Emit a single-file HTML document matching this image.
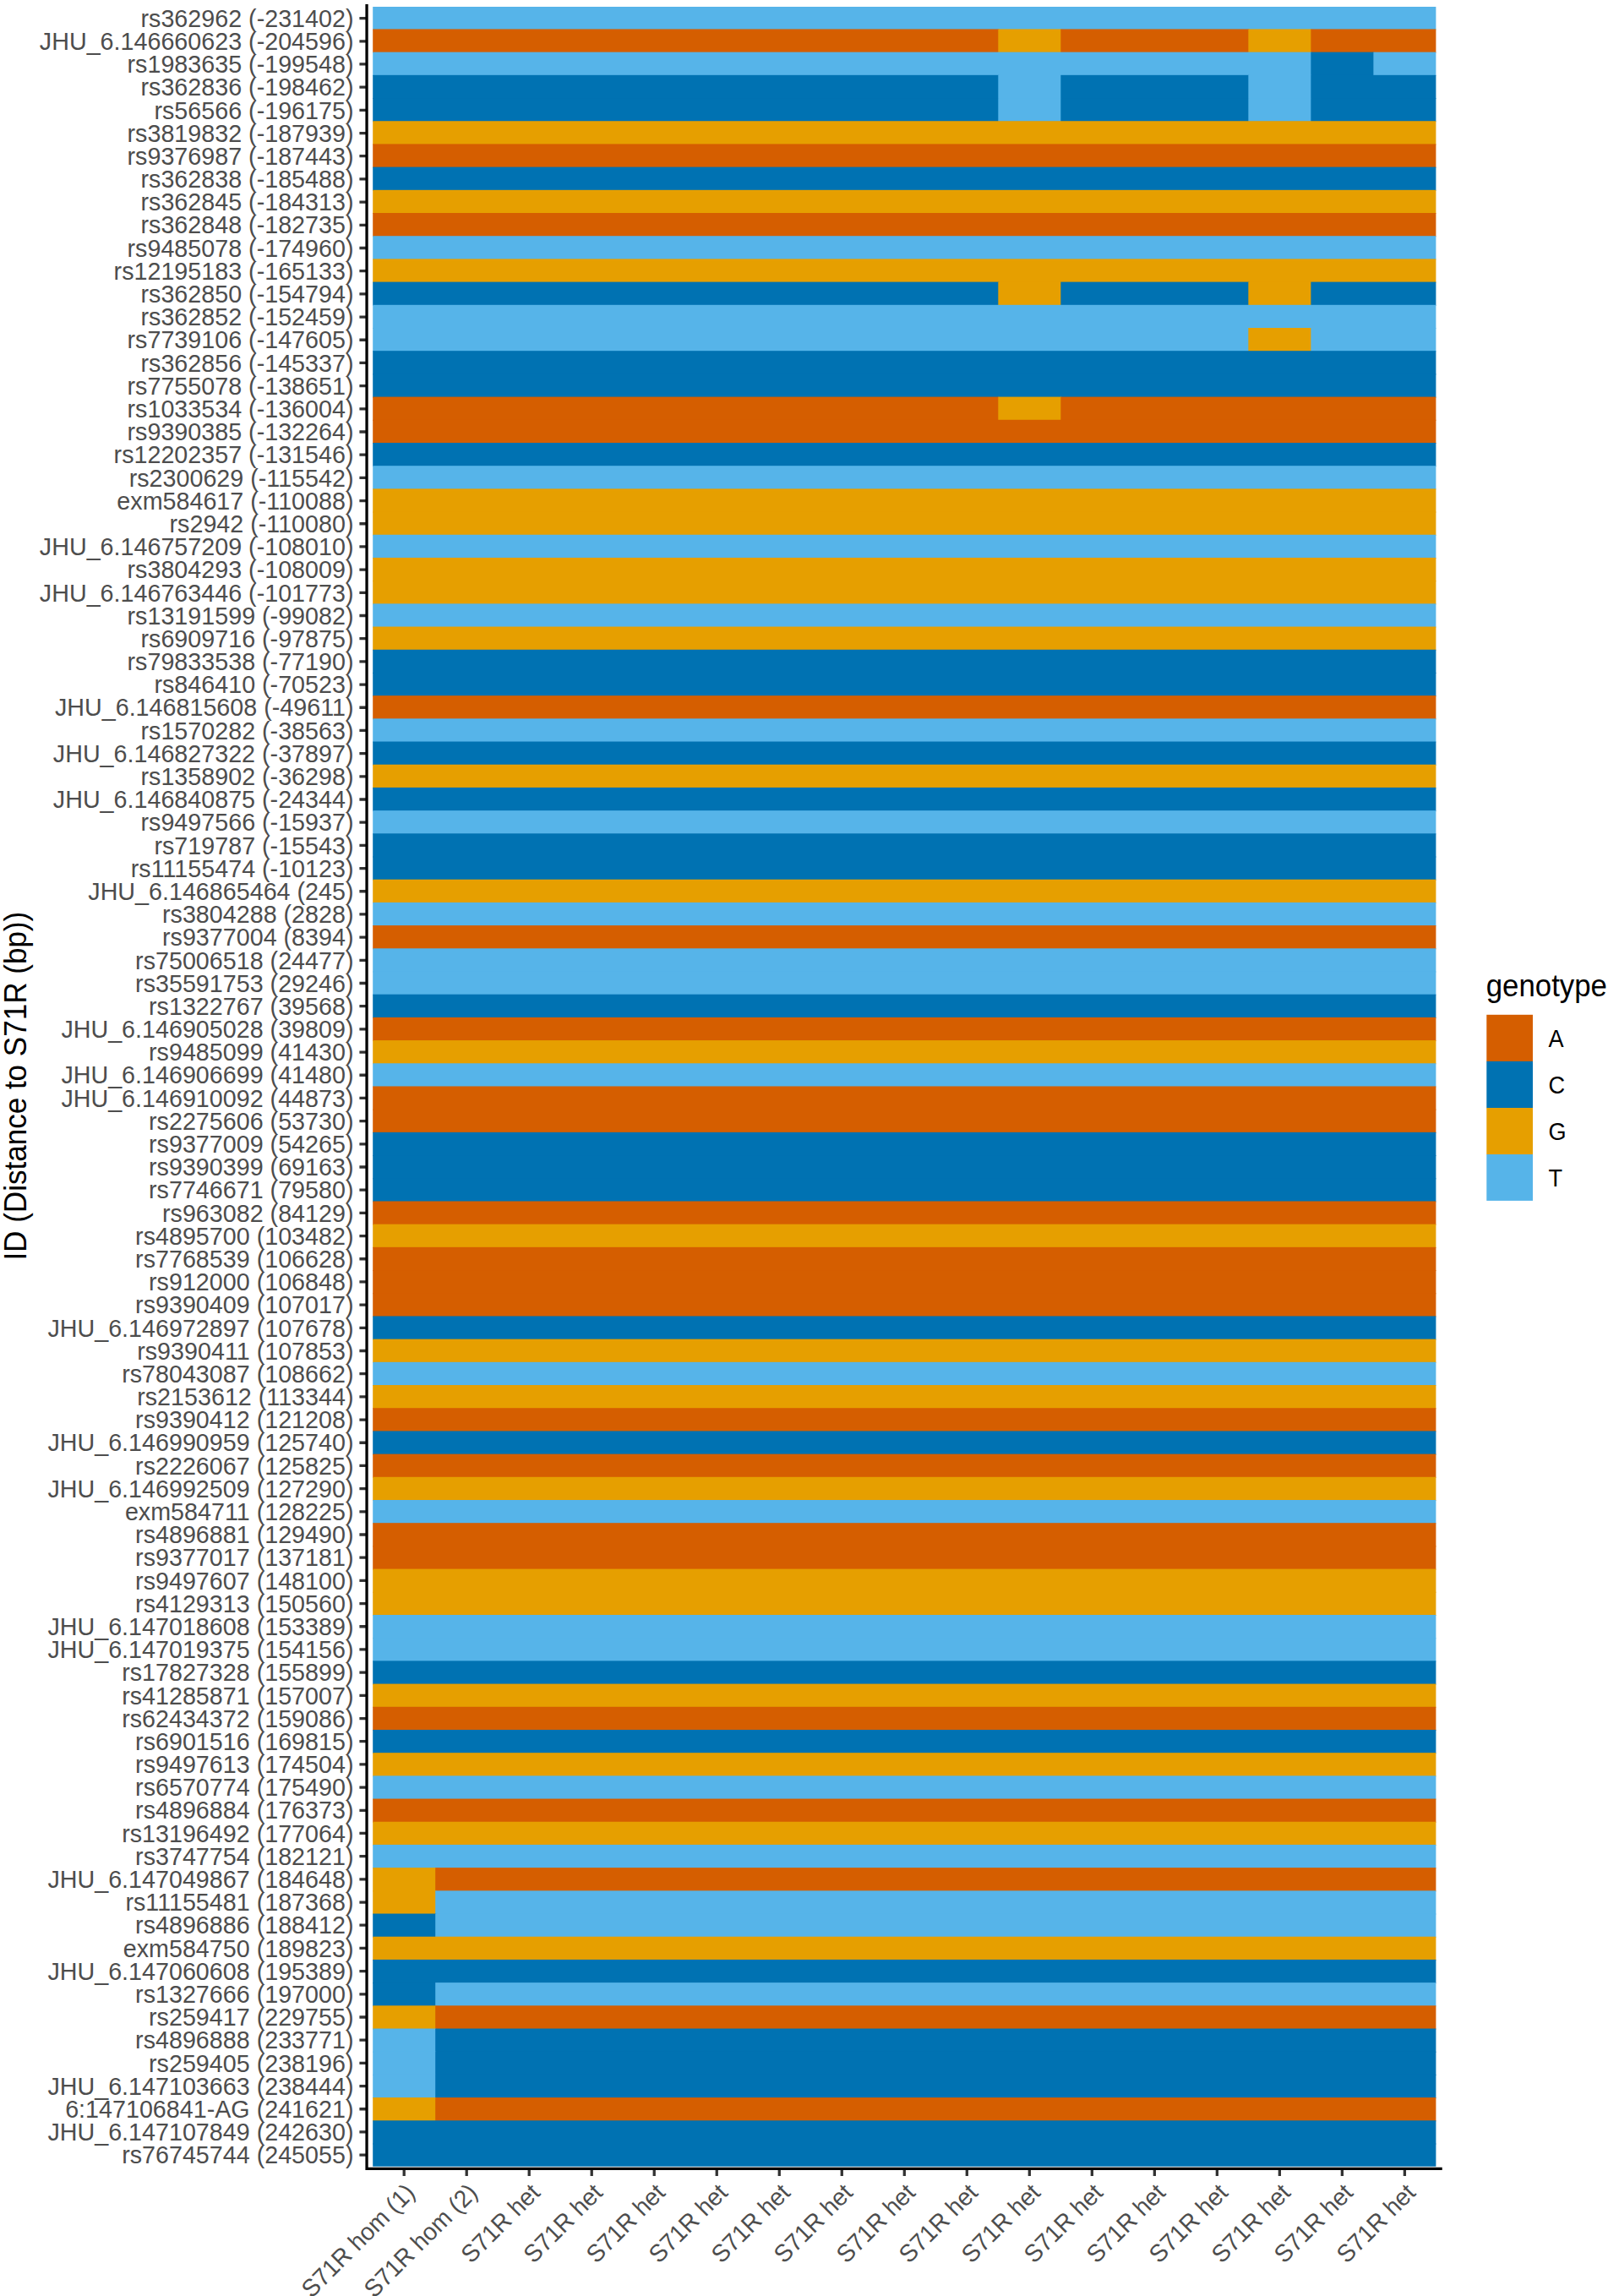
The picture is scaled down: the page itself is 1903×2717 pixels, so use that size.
<!DOCTYPE html>
<html lang="en"><head><meta charset="utf-8"><title>Genotype heatmap</title>
<style>html,body{margin:0;padding:0;background:#fff}svg{display:block}text{font-family:"Liberation Sans",sans-serif}.yl{font-size:29.2px;fill:#4D4D4D;text-anchor:end}.xl{font-size:29.0px;fill:#4D4D4D;text-anchor:end}.lg{font-size:29.2px;fill:#000}.tt{font-size:36.4px;fill:#000}</style></head><body>
<svg width="1903" height="2717" viewBox="0 0 1903 2717">
<rect width="1903" height="2717" fill="#fff"/>
<clipPath id="pc"><rect x="441.2" y="8" width="1258.2" height="2555.7"/></clipPath><g clip-path="url(#pc)">
<rect x="440.2" y="7.25" width="1260.2" height="28.2" fill="#56B4E9"/>
<rect x="440.2" y="34.45" width="742.12" height="28.2" fill="#D55E00"/>
<rect x="1181.32" y="34.45" width="75.01" height="28.2" fill="#E69F00"/>
<rect x="1255.33" y="34.45" width="223.04" height="28.2" fill="#D55E00"/>
<rect x="1477.36" y="34.45" width="75.01" height="28.2" fill="#E69F00"/>
<rect x="1551.38" y="34.45" width="149.02" height="28.2" fill="#D55E00"/>
<rect x="440.2" y="61.64" width="1112.18" height="28.2" fill="#56B4E9"/>
<rect x="1551.38" y="61.64" width="75.01" height="28.2" fill="#0072B2"/>
<rect x="1625.39" y="61.64" width="75.01" height="28.2" fill="#56B4E9"/>
<rect x="440.2" y="88.84" width="742.12" height="28.2" fill="#0072B2"/>
<rect x="1181.32" y="88.84" width="75.01" height="28.2" fill="#56B4E9"/>
<rect x="1255.33" y="88.84" width="223.04" height="28.2" fill="#0072B2"/>
<rect x="1477.36" y="88.84" width="75.01" height="28.2" fill="#56B4E9"/>
<rect x="1551.38" y="88.84" width="149.02" height="28.2" fill="#0072B2"/>
<rect x="440.2" y="116.04" width="742.12" height="28.2" fill="#0072B2"/>
<rect x="1181.32" y="116.04" width="75.01" height="28.2" fill="#56B4E9"/>
<rect x="1255.33" y="116.04" width="223.04" height="28.2" fill="#0072B2"/>
<rect x="1477.36" y="116.04" width="75.01" height="28.2" fill="#56B4E9"/>
<rect x="1551.38" y="116.04" width="149.02" height="28.2" fill="#0072B2"/>
<rect x="440.2" y="143.23" width="1260.2" height="28.2" fill="#E69F00"/>
<rect x="440.2" y="170.43" width="1260.2" height="28.2" fill="#D55E00"/>
<rect x="440.2" y="197.62" width="1260.2" height="28.2" fill="#0072B2"/>
<rect x="440.2" y="224.82" width="1260.2" height="28.2" fill="#E69F00"/>
<rect x="440.2" y="252.02" width="1260.2" height="28.2" fill="#D55E00"/>
<rect x="440.2" y="279.21" width="1260.2" height="28.2" fill="#56B4E9"/>
<rect x="440.2" y="306.41" width="1260.2" height="28.2" fill="#E69F00"/>
<rect x="440.2" y="333.61" width="742.12" height="28.2" fill="#0072B2"/>
<rect x="1181.32" y="333.61" width="75.01" height="28.2" fill="#E69F00"/>
<rect x="1255.33" y="333.61" width="223.04" height="28.2" fill="#0072B2"/>
<rect x="1477.36" y="333.61" width="75.01" height="28.2" fill="#E69F00"/>
<rect x="1551.38" y="333.61" width="149.02" height="28.2" fill="#0072B2"/>
<rect x="440.2" y="360.8" width="1260.2" height="28.2" fill="#56B4E9"/>
<rect x="440.2" y="388" width="1038.16" height="28.2" fill="#56B4E9"/>
<rect x="1477.36" y="388" width="75.01" height="28.2" fill="#E69F00"/>
<rect x="1551.38" y="388" width="149.02" height="28.2" fill="#56B4E9"/>
<rect x="440.2" y="415.19" width="1260.2" height="28.2" fill="#0072B2"/>
<rect x="440.2" y="442.39" width="1260.2" height="28.2" fill="#0072B2"/>
<rect x="440.2" y="469.59" width="742.12" height="28.2" fill="#D55E00"/>
<rect x="1181.32" y="469.59" width="75.01" height="28.2" fill="#E69F00"/>
<rect x="1255.33" y="469.59" width="445.07" height="28.2" fill="#D55E00"/>
<rect x="440.2" y="496.78" width="1260.2" height="28.2" fill="#D55E00"/>
<rect x="440.2" y="523.98" width="1260.2" height="28.2" fill="#0072B2"/>
<rect x="440.2" y="551.18" width="1260.2" height="28.2" fill="#56B4E9"/>
<rect x="440.2" y="578.37" width="1260.2" height="28.2" fill="#E69F00"/>
<rect x="440.2" y="605.57" width="1260.2" height="28.2" fill="#E69F00"/>
<rect x="440.2" y="632.76" width="1260.2" height="28.2" fill="#56B4E9"/>
<rect x="440.2" y="659.96" width="1260.2" height="28.2" fill="#E69F00"/>
<rect x="440.2" y="687.16" width="1260.2" height="28.2" fill="#E69F00"/>
<rect x="440.2" y="714.35" width="1260.2" height="28.2" fill="#56B4E9"/>
<rect x="440.2" y="741.55" width="1260.2" height="28.2" fill="#E69F00"/>
<rect x="440.2" y="768.75" width="1260.2" height="28.2" fill="#0072B2"/>
<rect x="440.2" y="795.94" width="1260.2" height="28.2" fill="#0072B2"/>
<rect x="440.2" y="823.14" width="1260.2" height="28.2" fill="#D55E00"/>
<rect x="440.2" y="850.33" width="1260.2" height="28.2" fill="#56B4E9"/>
<rect x="440.2" y="877.53" width="1260.2" height="28.2" fill="#0072B2"/>
<rect x="440.2" y="904.73" width="1260.2" height="28.2" fill="#E69F00"/>
<rect x="440.2" y="931.92" width="1260.2" height="28.2" fill="#0072B2"/>
<rect x="440.2" y="959.12" width="1260.2" height="28.2" fill="#56B4E9"/>
<rect x="440.2" y="986.32" width="1260.2" height="28.2" fill="#0072B2"/>
<rect x="440.2" y="1013.51" width="1260.2" height="28.2" fill="#0072B2"/>
<rect x="440.2" y="1040.71" width="1260.2" height="28.2" fill="#E69F00"/>
<rect x="440.2" y="1067.9" width="1260.2" height="28.2" fill="#56B4E9"/>
<rect x="440.2" y="1095.1" width="1260.2" height="28.2" fill="#D55E00"/>
<rect x="440.2" y="1122.3" width="1260.2" height="28.2" fill="#56B4E9"/>
<rect x="440.2" y="1149.49" width="1260.2" height="28.2" fill="#56B4E9"/>
<rect x="440.2" y="1176.69" width="1260.2" height="28.2" fill="#0072B2"/>
<rect x="440.2" y="1203.89" width="1260.2" height="28.2" fill="#D55E00"/>
<rect x="440.2" y="1231.08" width="1260.2" height="28.2" fill="#E69F00"/>
<rect x="440.2" y="1258.28" width="1260.2" height="28.2" fill="#56B4E9"/>
<rect x="440.2" y="1285.47" width="1260.2" height="28.2" fill="#D55E00"/>
<rect x="440.2" y="1312.67" width="1260.2" height="28.2" fill="#D55E00"/>
<rect x="440.2" y="1339.87" width="1260.2" height="28.2" fill="#0072B2"/>
<rect x="440.2" y="1367.06" width="1260.2" height="28.2" fill="#0072B2"/>
<rect x="440.2" y="1394.26" width="1260.2" height="28.2" fill="#0072B2"/>
<rect x="440.2" y="1421.46" width="1260.2" height="28.2" fill="#D55E00"/>
<rect x="440.2" y="1448.65" width="1260.2" height="28.2" fill="#E69F00"/>
<rect x="440.2" y="1475.85" width="1260.2" height="28.2" fill="#D55E00"/>
<rect x="440.2" y="1503.05" width="1260.2" height="28.2" fill="#D55E00"/>
<rect x="440.2" y="1530.24" width="1260.2" height="28.2" fill="#D55E00"/>
<rect x="440.2" y="1557.44" width="1260.2" height="28.2" fill="#0072B2"/>
<rect x="440.2" y="1584.63" width="1260.2" height="28.2" fill="#E69F00"/>
<rect x="440.2" y="1611.83" width="1260.2" height="28.2" fill="#56B4E9"/>
<rect x="440.2" y="1639.03" width="1260.2" height="28.2" fill="#E69F00"/>
<rect x="440.2" y="1666.22" width="1260.2" height="28.2" fill="#D55E00"/>
<rect x="440.2" y="1693.42" width="1260.2" height="28.2" fill="#0072B2"/>
<rect x="440.2" y="1720.62" width="1260.2" height="28.2" fill="#D55E00"/>
<rect x="440.2" y="1747.81" width="1260.2" height="28.2" fill="#E69F00"/>
<rect x="440.2" y="1775.01" width="1260.2" height="28.2" fill="#56B4E9"/>
<rect x="440.2" y="1802.2" width="1260.2" height="28.2" fill="#D55E00"/>
<rect x="440.2" y="1829.4" width="1260.2" height="28.2" fill="#D55E00"/>
<rect x="440.2" y="1856.6" width="1260.2" height="28.2" fill="#E69F00"/>
<rect x="440.2" y="1883.79" width="1260.2" height="28.2" fill="#E69F00"/>
<rect x="440.2" y="1910.99" width="1260.2" height="28.2" fill="#56B4E9"/>
<rect x="440.2" y="1938.19" width="1260.2" height="28.2" fill="#56B4E9"/>
<rect x="440.2" y="1965.38" width="1260.2" height="28.2" fill="#0072B2"/>
<rect x="440.2" y="1992.58" width="1260.2" height="28.2" fill="#E69F00"/>
<rect x="440.2" y="2019.77" width="1260.2" height="28.2" fill="#D55E00"/>
<rect x="440.2" y="2046.97" width="1260.2" height="28.2" fill="#0072B2"/>
<rect x="440.2" y="2074.17" width="1260.2" height="28.2" fill="#E69F00"/>
<rect x="440.2" y="2101.36" width="1260.2" height="28.2" fill="#56B4E9"/>
<rect x="440.2" y="2128.56" width="1260.2" height="28.2" fill="#D55E00"/>
<rect x="440.2" y="2155.76" width="1260.2" height="28.2" fill="#E69F00"/>
<rect x="440.2" y="2182.95" width="1260.2" height="28.2" fill="#56B4E9"/>
<rect x="440.2" y="2210.15" width="76.01" height="28.2" fill="#E69F00"/>
<rect x="515.21" y="2210.15" width="1185.19" height="28.2" fill="#D55E00"/>
<rect x="440.2" y="2237.34" width="76.01" height="28.2" fill="#E69F00"/>
<rect x="515.21" y="2237.34" width="1185.19" height="28.2" fill="#56B4E9"/>
<rect x="440.2" y="2264.54" width="76.01" height="28.2" fill="#0072B2"/>
<rect x="515.21" y="2264.54" width="1185.19" height="28.2" fill="#56B4E9"/>
<rect x="440.2" y="2291.74" width="1260.2" height="28.2" fill="#E69F00"/>
<rect x="440.2" y="2318.93" width="1260.2" height="28.2" fill="#0072B2"/>
<rect x="440.2" y="2346.13" width="76.01" height="28.2" fill="#0072B2"/>
<rect x="515.21" y="2346.13" width="1185.19" height="28.2" fill="#56B4E9"/>
<rect x="440.2" y="2373.33" width="76.01" height="28.2" fill="#E69F00"/>
<rect x="515.21" y="2373.33" width="1185.19" height="28.2" fill="#D55E00"/>
<rect x="440.2" y="2400.52" width="76.01" height="28.2" fill="#56B4E9"/>
<rect x="515.21" y="2400.52" width="1185.19" height="28.2" fill="#0072B2"/>
<rect x="440.2" y="2427.72" width="76.01" height="28.2" fill="#56B4E9"/>
<rect x="515.21" y="2427.72" width="1185.19" height="28.2" fill="#0072B2"/>
<rect x="440.2" y="2454.91" width="76.01" height="28.2" fill="#56B4E9"/>
<rect x="515.21" y="2454.91" width="1185.19" height="28.2" fill="#0072B2"/>
<rect x="440.2" y="2482.11" width="76.01" height="28.2" fill="#E69F00"/>
<rect x="515.21" y="2482.11" width="1185.19" height="28.2" fill="#D55E00"/>
<rect x="440.2" y="2509.31" width="1260.2" height="28.2" fill="#0072B2"/>
<rect x="440.2" y="2536.5" width="1260.2" height="28.2" fill="#0072B2"/>
</g>
<path d="M425.4 21.59H434.05M425.4 48.78H434.05M425.4 75.97H434.05M425.4 103.16H434.05M425.4 130.35H434.05M425.4 157.54H434.05M425.4 184.72H434.05M425.4 211.91H434.05M425.4 239.1H434.05M425.4 266.29H434.05M425.4 293.48H434.05M425.4 320.67H434.05M425.4 347.85H434.05M425.4 375.04H434.05M425.4 402.23H434.05M425.4 429.42H434.05M425.4 456.61H434.05M425.4 483.8H434.05M425.4 510.98H434.05M425.4 538.17H434.05M425.4 565.36H434.05M425.4 592.55H434.05M425.4 619.74H434.05M425.4 646.92H434.05M425.4 674.11H434.05M425.4 701.3H434.05M425.4 728.49H434.05M425.4 755.68H434.05M425.4 782.87H434.05M425.4 810.05H434.05M425.4 837.24H434.05M425.4 864.43H434.05M425.4 891.62H434.05M425.4 918.81H434.05M425.4 946H434.05M425.4 973.18H434.05M425.4 1000.37H434.05M425.4 1027.56H434.05M425.4 1054.75H434.05M425.4 1081.94H434.05M425.4 1109.13H434.05M425.4 1136.31H434.05M425.4 1163.5H434.05M425.4 1190.69H434.05M425.4 1217.88H434.05M425.4 1245.07H434.05M425.4 1272.26H434.05M425.4 1299.44H434.05M425.4 1326.63H434.05M425.4 1353.82H434.05M425.4 1381.01H434.05M425.4 1408.2H434.05M425.4 1435.39H434.05M425.4 1462.57H434.05M425.4 1489.76H434.05M425.4 1516.95H434.05M425.4 1544.14H434.05M425.4 1571.33H434.05M425.4 1598.52H434.05M425.4 1625.7H434.05M425.4 1652.89H434.05M425.4 1680.08H434.05M425.4 1707.27H434.05M425.4 1734.46H434.05M425.4 1761.65H434.05M425.4 1788.83H434.05M425.4 1816.02H434.05M425.4 1843.21H434.05M425.4 1870.4H434.05M425.4 1897.59H434.05M425.4 1924.77H434.05M425.4 1951.96H434.05M425.4 1979.15H434.05M425.4 2006.34H434.05M425.4 2033.53H434.05M425.4 2060.72H434.05M425.4 2087.9H434.05M425.4 2115.09H434.05M425.4 2142.28H434.05M425.4 2169.47H434.05M425.4 2196.66H434.05M425.4 2223.85H434.05M425.4 2251.03H434.05M425.4 2278.22H434.05M425.4 2305.41H434.05M425.4 2332.6H434.05M425.4 2359.79H434.05M425.4 2386.98H434.05M425.4 2414.16H434.05M425.4 2441.35H434.05M425.4 2468.54H434.05M425.4 2495.73H434.05M425.4 2522.92H434.05M425.4 2550.11H434.05M478.21 2566.4V2575.05M552.22 2566.4V2575.05M626.23 2566.4V2575.05M700.24 2566.4V2575.05M774.25 2566.4V2575.05M848.26 2566.4V2575.05M922.28 2566.4V2575.05M996.29 2566.4V2575.05M1070.3 2566.4V2575.05M1144.31 2566.4V2575.05M1218.32 2566.4V2575.05M1292.34 2566.4V2575.05M1366.35 2566.4V2575.05M1440.36 2566.4V2575.05M1514.37 2566.4V2575.05M1588.38 2566.4V2575.05M1662.39 2566.4V2575.05" stroke="#333" stroke-width="3.3" fill="none"/>
<path d="M434.05 5V2566.4H1706.75" stroke="#000" stroke-width="3.3" fill="none" stroke-linecap="butt" stroke-linejoin="miter"/>
<g class="yl">
<text transform="translate(418.5 31.79) scale(0.983 1)">rs362962 (-231402)</text>
<text transform="translate(418.5 58.98) scale(0.983 1)">JHU_6.146660623 (-204596)</text>
<text transform="translate(418.5 86.17) scale(0.983 1)">rs1983635 (-199548)</text>
<text transform="translate(418.5 113.36) scale(0.983 1)">rs362836 (-198462)</text>
<text transform="translate(418.5 140.55) scale(0.983 1)">rs56566 (-196175)</text>
<text transform="translate(418.5 167.74) scale(0.983 1)">rs3819832 (-187939)</text>
<text transform="translate(418.5 194.92) scale(0.983 1)">rs9376987 (-187443)</text>
<text transform="translate(418.5 222.11) scale(0.983 1)">rs362838 (-185488)</text>
<text transform="translate(418.5 249.3) scale(0.983 1)">rs362845 (-184313)</text>
<text transform="translate(418.5 276.49) scale(0.983 1)">rs362848 (-182735)</text>
<text transform="translate(418.5 303.68) scale(0.983 1)">rs9485078 (-174960)</text>
<text transform="translate(418.5 330.87) scale(0.983 1)">rs12195183 (-165133)</text>
<text transform="translate(418.5 358.05) scale(0.983 1)">rs362850 (-154794)</text>
<text transform="translate(418.5 385.24) scale(0.983 1)">rs362852 (-152459)</text>
<text transform="translate(418.5 412.43) scale(0.983 1)">rs7739106 (-147605)</text>
<text transform="translate(418.5 439.62) scale(0.983 1)">rs362856 (-145337)</text>
<text transform="translate(418.5 466.81) scale(0.983 1)">rs7755078 (-138651)</text>
<text transform="translate(418.5 494) scale(0.983 1)">rs1033534 (-136004)</text>
<text transform="translate(418.5 521.18) scale(0.983 1)">rs9390385 (-132264)</text>
<text transform="translate(418.5 548.37) scale(0.983 1)">rs12202357 (-131546)</text>
<text transform="translate(418.5 575.56) scale(0.983 1)">rs2300629 (-115542)</text>
<text transform="translate(418.5 602.75) scale(0.983 1)">exm584617 (-110088)</text>
<text transform="translate(418.5 629.94) scale(0.983 1)">rs2942 (-110080)</text>
<text transform="translate(418.5 657.12) scale(0.983 1)">JHU_6.146757209 (-108010)</text>
<text transform="translate(418.5 684.31) scale(0.983 1)">rs3804293 (-108009)</text>
<text transform="translate(418.5 711.5) scale(0.983 1)">JHU_6.146763446 (-101773)</text>
<text transform="translate(418.5 738.69) scale(0.983 1)">rs13191599 (-99082)</text>
<text transform="translate(418.5 765.88) scale(0.983 1)">rs6909716 (-97875)</text>
<text transform="translate(418.5 793.07) scale(0.983 1)">rs79833538 (-77190)</text>
<text transform="translate(418.5 820.25) scale(0.983 1)">rs846410 (-70523)</text>
<text transform="translate(418.5 847.44) scale(0.983 1)">JHU_6.146815608 (-49611)</text>
<text transform="translate(418.5 874.63) scale(0.983 1)">rs1570282 (-38563)</text>
<text transform="translate(418.5 901.82) scale(0.983 1)">JHU_6.146827322 (-37897)</text>
<text transform="translate(418.5 929.01) scale(0.983 1)">rs1358902 (-36298)</text>
<text transform="translate(418.5 956.2) scale(0.983 1)">JHU_6.146840875 (-24344)</text>
<text transform="translate(418.5 983.38) scale(0.983 1)">rs9497566 (-15937)</text>
<text transform="translate(418.5 1010.57) scale(0.983 1)">rs719787 (-15543)</text>
<text transform="translate(418.5 1037.76) scale(0.983 1)">rs11155474 (-10123)</text>
<text transform="translate(418.5 1064.95) scale(0.983 1)">JHU_6.146865464 (245)</text>
<text transform="translate(418.5 1092.14) scale(0.983 1)">rs3804288 (2828)</text>
<text transform="translate(418.5 1119.33) scale(0.983 1)">rs9377004 (8394)</text>
<text transform="translate(418.5 1146.51) scale(0.983 1)">rs75006518 (24477)</text>
<text transform="translate(418.5 1173.7) scale(0.983 1)">rs35591753 (29246)</text>
<text transform="translate(418.5 1200.89) scale(0.983 1)">rs1322767 (39568)</text>
<text transform="translate(418.5 1228.08) scale(0.983 1)">JHU_6.146905028 (39809)</text>
<text transform="translate(418.5 1255.27) scale(0.983 1)">rs9485099 (41430)</text>
<text transform="translate(418.5 1282.46) scale(0.983 1)">JHU_6.146906699 (41480)</text>
<text transform="translate(418.5 1309.64) scale(0.983 1)">JHU_6.146910092 (44873)</text>
<text transform="translate(418.5 1336.83) scale(0.983 1)">rs2275606 (53730)</text>
<text transform="translate(418.5 1364.02) scale(0.983 1)">rs9377009 (54265)</text>
<text transform="translate(418.5 1391.21) scale(0.983 1)">rs9390399 (69163)</text>
<text transform="translate(418.5 1418.4) scale(0.983 1)">rs7746671 (79580)</text>
<text transform="translate(418.5 1445.59) scale(0.983 1)">rs963082 (84129)</text>
<text transform="translate(418.5 1472.77) scale(0.983 1)">rs4895700 (103482)</text>
<text transform="translate(418.5 1499.96) scale(0.983 1)">rs7768539 (106628)</text>
<text transform="translate(418.5 1527.15) scale(0.983 1)">rs912000 (106848)</text>
<text transform="translate(418.5 1554.34) scale(0.983 1)">rs9390409 (107017)</text>
<text transform="translate(418.5 1581.53) scale(0.983 1)">JHU_6.146972897 (107678)</text>
<text transform="translate(418.5 1608.72) scale(0.983 1)">rs9390411 (107853)</text>
<text transform="translate(418.5 1635.9) scale(0.983 1)">rs78043087 (108662)</text>
<text transform="translate(418.5 1663.09) scale(0.983 1)">rs2153612 (113344)</text>
<text transform="translate(418.5 1690.28) scale(0.983 1)">rs9390412 (121208)</text>
<text transform="translate(418.5 1717.47) scale(0.983 1)">JHU_6.146990959 (125740)</text>
<text transform="translate(418.5 1744.66) scale(0.983 1)">rs2226067 (125825)</text>
<text transform="translate(418.5 1771.85) scale(0.983 1)">JHU_6.146992509 (127290)</text>
<text transform="translate(418.5 1799.03) scale(0.983 1)">exm584711 (128225)</text>
<text transform="translate(418.5 1826.22) scale(0.983 1)">rs4896881 (129490)</text>
<text transform="translate(418.5 1853.41) scale(0.983 1)">rs9377017 (137181)</text>
<text transform="translate(418.5 1880.6) scale(0.983 1)">rs9497607 (148100)</text>
<text transform="translate(418.5 1907.79) scale(0.983 1)">rs4129313 (150560)</text>
<text transform="translate(418.5 1934.97) scale(0.983 1)">JHU_6.147018608 (153389)</text>
<text transform="translate(418.5 1962.16) scale(0.983 1)">JHU_6.147019375 (154156)</text>
<text transform="translate(418.5 1989.35) scale(0.983 1)">rs17827328 (155899)</text>
<text transform="translate(418.5 2016.54) scale(0.983 1)">rs41285871 (157007)</text>
<text transform="translate(418.5 2043.73) scale(0.983 1)">rs62434372 (159086)</text>
<text transform="translate(418.5 2070.92) scale(0.983 1)">rs6901516 (169815)</text>
<text transform="translate(418.5 2098.1) scale(0.983 1)">rs9497613 (174504)</text>
<text transform="translate(418.5 2125.29) scale(0.983 1)">rs6570774 (175490)</text>
<text transform="translate(418.5 2152.48) scale(0.983 1)">rs4896884 (176373)</text>
<text transform="translate(418.5 2179.67) scale(0.983 1)">rs13196492 (177064)</text>
<text transform="translate(418.5 2206.86) scale(0.983 1)">rs3747754 (182121)</text>
<text transform="translate(418.5 2234.05) scale(0.983 1)">JHU_6.147049867 (184648)</text>
<text transform="translate(418.5 2261.23) scale(0.983 1)">rs11155481 (187368)</text>
<text transform="translate(418.5 2288.42) scale(0.983 1)">rs4896886 (188412)</text>
<text transform="translate(418.5 2315.61) scale(0.983 1)">exm584750 (189823)</text>
<text transform="translate(418.5 2342.8) scale(0.983 1)">JHU_6.147060608 (195389)</text>
<text transform="translate(418.5 2369.99) scale(0.983 1)">rs1327666 (197000)</text>
<text transform="translate(418.5 2397.18) scale(0.983 1)">rs259417 (229755)</text>
<text transform="translate(418.5 2424.36) scale(0.983 1)">rs4896888 (233771)</text>
<text transform="translate(418.5 2451.55) scale(0.983 1)">rs259405 (238196)</text>
<text transform="translate(418.5 2478.74) scale(0.983 1)">JHU_6.147103663 (238444)</text>
<text transform="translate(418.5 2505.93) scale(0.983 1)">6:147106841-AG (241621)</text>
<text transform="translate(418.5 2533.12) scale(0.983 1)">JHU_6.147107849 (242630)</text>
<text transform="translate(418.5 2560.31) scale(0.983 1)">rs76745744 (245055)</text>
</g>
<g class="xl">
<text transform="translate(478.21 2582) rotate(-45) scale(0.972 1)" x="0" y="20.4">S71R hom (1)</text>
<text transform="translate(552.22 2582) rotate(-45) scale(0.972 1)" x="0" y="20.4">S71R hom (2)</text>
<text transform="translate(626.23 2582) rotate(-45) scale(0.972 1)" x="0" y="20.4">S71R het</text>
<text transform="translate(700.24 2582) rotate(-45) scale(0.972 1)" x="0" y="20.4">S71R het</text>
<text transform="translate(774.25 2582) rotate(-45) scale(0.972 1)" x="0" y="20.4">S71R het</text>
<text transform="translate(848.26 2582) rotate(-45) scale(0.972 1)" x="0" y="20.4">S71R het</text>
<text transform="translate(922.28 2582) rotate(-45) scale(0.972 1)" x="0" y="20.4">S71R het</text>
<text transform="translate(996.29 2582) rotate(-45) scale(0.972 1)" x="0" y="20.4">S71R het</text>
<text transform="translate(1070.3 2582) rotate(-45) scale(0.972 1)" x="0" y="20.4">S71R het</text>
<text transform="translate(1144.31 2582) rotate(-45) scale(0.972 1)" x="0" y="20.4">S71R het</text>
<text transform="translate(1218.32 2582) rotate(-45) scale(0.972 1)" x="0" y="20.4">S71R het</text>
<text transform="translate(1292.34 2582) rotate(-45) scale(0.972 1)" x="0" y="20.4">S71R het</text>
<text transform="translate(1366.35 2582) rotate(-45) scale(0.972 1)" x="0" y="20.4">S71R het</text>
<text transform="translate(1440.36 2582) rotate(-45) scale(0.972 1)" x="0" y="20.4">S71R het</text>
<text transform="translate(1514.37 2582) rotate(-45) scale(0.972 1)" x="0" y="20.4">S71R het</text>
<text transform="translate(1588.38 2582) rotate(-45) scale(0.972 1)" x="0" y="20.4">S71R het</text>
<text transform="translate(1662.39 2582) rotate(-45) scale(0.972 1)" x="0" y="20.4">S71R het</text>
</g>
<text class="tt" text-anchor="middle" transform="translate(30.9 1285.2) rotate(-90) scale(0.963 1)">ID (Distance to S71R (bp))</text>
<text class="tt" transform="translate(1758.7 1179) scale(0.957 1)">genotype</text>
<rect x="1759.3" y="1200.8" width="54.7" height="55.4" fill="#D55E00"/>
<text class="lg" transform="translate(1832.4 1238.6) scale(0.93 1)">A</text>
<rect x="1759.3" y="1255.9" width="54.7" height="55.4" fill="#0072B2"/>
<text class="lg" transform="translate(1832.4 1293.7) scale(0.93 1)">C</text>
<rect x="1759.3" y="1311" width="54.7" height="55.3" fill="#E69F00"/>
<text class="lg" transform="translate(1832.4 1348.75) scale(0.93 1)">G</text>
<rect x="1759.3" y="1366" width="54.7" height="54.9" fill="#56B4E9"/>
<text class="lg" transform="translate(1832.4 1403.7) scale(0.93 1)">T</text>
</svg></body></html>
